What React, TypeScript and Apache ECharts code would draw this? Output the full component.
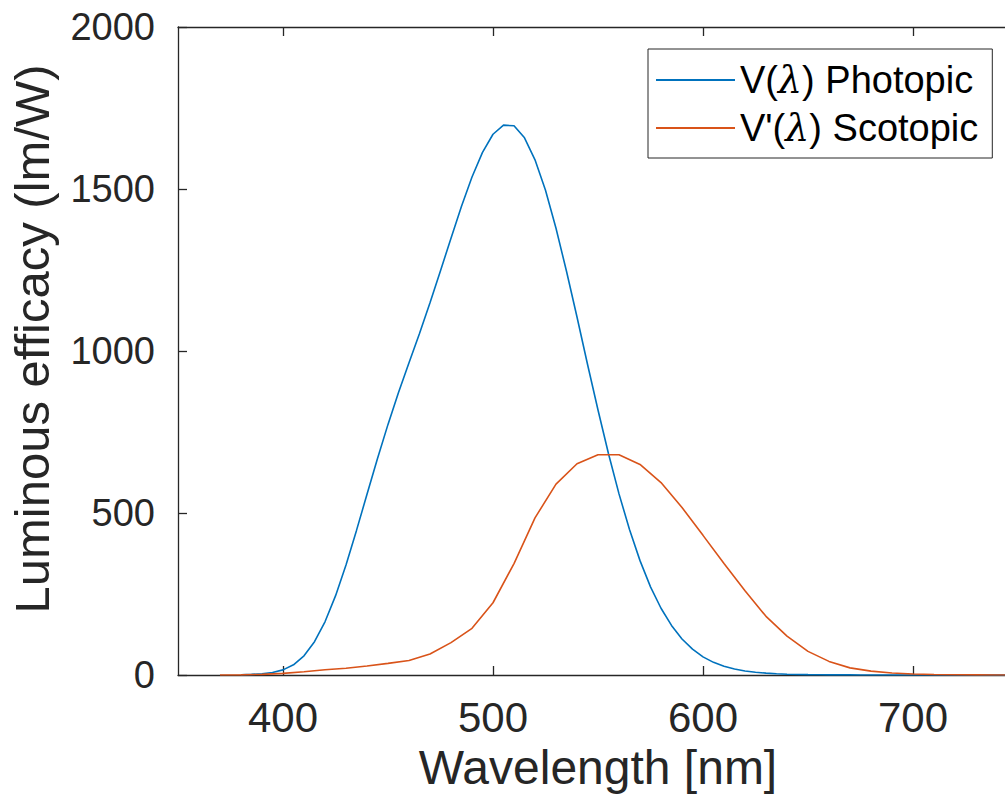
import React, { useEffect, useRef } from "react";
import * as echarts from "echarts";

// Blue curve (legend: "V(λ) Photopic"), 5 nm steps
const blueWavelengths = [
  380, 385, 390, 395, 400, 405, 410, 415, 420, 425, 430, 435, 440, 445, 450, 455,
  460, 465, 470, 475, 480, 485, 490, 495, 500, 505, 510, 515, 520, 525, 530, 535,
  540, 545, 550, 555, 560, 565, 570, 575, 580, 585, 590, 595, 600, 605, 610, 615,
  620, 625, 630, 635, 640, 645, 650, 655, 660, 665, 670, 675, 680, 685, 690, 695,
  700, 710, 720, 730, 740, 750,
];
const blueValues = [
  1.0, 1.9, 3.8, 7.7, 15.8, 31.5, 59.2, 102.7, 164.2, 244.1, 339.7, 446.3, 557.8, 668.3, 773.5, 872.1,
  963.9, 1054, 1149, 1248, 1348, 1447, 1537, 1613, 1669, 1697, 1695, 1658, 1590, 1496, 1379, 1246,
  1105, 959, 818, 683, 559, 449, 353, 272, 206, 153, 111, 80, 56, 39, 27, 18.5,
  12.5, 8.4, 5.7, 3.8, 2.5, 1.7, 1.2, 0.8, 0.5, 0.4, 0.3, 0.2, 0.1, 0.1, 0.1, 0,
  0, 0, 0, 0, 0, 0,
];

// Orange curve (legend: "V'(λ) Scotopic"), 10 nm steps
const orangeWavelengths = [
  370, 380, 390, 400, 410, 420, 430, 440, 450, 460, 470, 480, 490, 500, 510, 520,
  530, 540, 550, 560, 570, 580, 590, 600, 610, 620, 630, 640, 650, 660, 670, 680,
  690, 700, 710, 720, 730, 740, 750,
];
const orangeValues = [
  0, 0.5, 2, 5, 10, 16, 21, 28, 36, 45, 65, 100, 144, 223, 344, 485,
  589, 652, 680, 680, 650, 594, 517, 431, 344, 260, 181, 120, 73, 42, 22, 12,
  6, 3, 1.4, 0.7, 0.4, 0.2, 0.1,
];

const seriesNames = ["V(λ) Photopic", "V'(λ) Scotopic"];
const xTicks = [400, 500, 600, 700];
const xMin = 350;
const xMax = 750;
const yMin = 0;
const yMax = 2000;
const yInterval = 500;

const FONT = "'Liberation Sans', Arial, Helvetica, sans-serif";
const AXIS_COLOR = "#262626";

export default function App() {
  const ref = useRef<HTMLDivElement>(null);

  useEffect(() => {
    if (!ref.current) return;
    const chart = echarts.init(ref.current, undefined, { renderer: "svg" });
    const toPairs = (xs: number[], ys: number[]) => xs.map((x, i) => [x, ys[i]]);

    chart.setOption({
      animation: false,
      backgroundColor: "#ffffff",
      grid: {
        left: 178,
        top: 27,
        width: 840,
        height: 648,
        containLabel: false,
        outerBoundsMode: "none",
      },
      legend: {
        orient: "vertical",
        left: 648,
        top: 49,
        padding: [11, 14, 10, 8],
        itemWidth: 79,
        itemHeight: 2,
        itemGap: 8,
        icon: "rect",
        borderColor: AXIS_COLOR,
        borderWidth: 1,
        borderRadius: 0,
        backgroundColor: "#ffffff",
        data: seriesNames,
        formatter: (name: string) => name.replace("λ", "{l|λ}"),
        textStyle: {
          fontSize: 38,
          lineHeight: 40,
          fontFamily: FONT,
          color: "#000000",
          rich: {
            l: { fontSize: 38, lineHeight: 40, fontFamily: "'DejaVu Serif', serif", fontStyle: "italic", color: "#000000" },
          },
        },
      },
      xAxis: [
        {
          type: "value",
          min: xMin,
          max: xMax,
          position: "bottom",
          name: "Wavelength [nm]",
          nameLocation: "middle",
          nameGap: 68,
          nameTextStyle: { fontSize: 48, fontFamily: FONT, color: AXIS_COLOR },
          axisLine: { show: true, onZero: false, lineStyle: { color: AXIS_COLOR, width: 1.3 } },
          axisTick: { show: true, inside: true, length: 9, customValues: xTicks, lineStyle: { color: AXIS_COLOR, width: 1.3 } },
          axisLabel: { show: true, customValues: xTicks, margin: 21, fontSize: 42, fontFamily: FONT, color: AXIS_COLOR },
          splitLine: { show: false },
        },
        {
          type: "value",
          min: xMin,
          max: xMax,
          position: "top",
          axisLine: { show: true, onZero: false, lineStyle: { color: AXIS_COLOR, width: 1.3 } },
          axisTick: { show: true, inside: true, length: 9, customValues: xTicks, lineStyle: { color: AXIS_COLOR, width: 1.3 } },
          axisLabel: { show: false },
          splitLine: { show: false },
        },
      ],
      yAxis: {
        type: "value",
        min: yMin,
        max: yMax,
        interval: yInterval,
        name: "Luminous efficacy (lm/W)",
        nameLocation: "middle",
        nameGap: 122,
        nameTextStyle: { fontSize: 49, fontFamily: FONT, color: AXIS_COLOR, padding: [0, 0, 0, 24] },
        axisLine: { show: true, onZero: false, lineStyle: { color: AXIS_COLOR, width: 1.3 } },
        axisTick: { show: true, inside: true, length: 9, lineStyle: { color: AXIS_COLOR, width: 1.3 } },
        axisLabel: {
          margin: 23,
          fontSize: 38,
          fontFamily: FONT,
          color: AXIS_COLOR,
          formatter: (v: number) => String(v),
        },
        splitLine: { show: false },
      },
      series: [
        {
          name: seriesNames[0],
          type: "line",
          data: toPairs(blueWavelengths, blueValues),
          symbol: "none",
          clip: true,
          lineStyle: { color: "#0072BD", width: 1.6 },
          itemStyle: { color: "#0072BD" },
        },
        {
          name: seriesNames[1],
          type: "line",
          data: toPairs(orangeWavelengths, orangeValues),
          symbol: "none",
          clip: true,
          lineStyle: { color: "#D95319", width: 1.6 },
          itemStyle: { color: "#D95319" },
        },
      ],
    });

    return () => chart.dispose();
  }, []);

  return (
    <div
      ref={ref}
      style={{ position: "absolute", left: 0, top: 0, width: 1005, height: 799 }}
    />
  );
}
